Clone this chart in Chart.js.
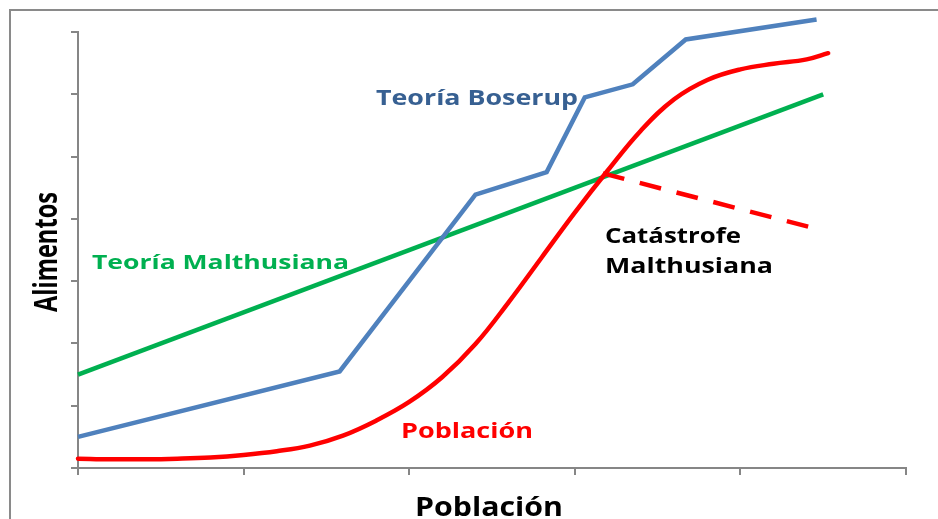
<!DOCTYPE html>
<html>
<head>
<meta charset="utf-8">
<script src="https://cdn.jsdelivr.net/npm/chart.js@4"></script>
<style>
  html, body { margin: 0; padding: 0; background: #fff; }
  #wrap { width: 938px; height: 519px; }
</style>
</head>
<body>
<div id="wrap"><canvas id="chart" width="938" height="519"></canvas></div>
<script>
// Población (curva roja)
const poblX = [0, 0.2, 0.4, 0.6, 0.8, 1.0, 1.2, 1.4, 1.6, 1.8, 2.0, 2.2, 2.4, 2.6, 2.8, 3.0, 3.2, 3.4, 3.6, 3.8, 4.0, 4.2, 4.4, 4.53];
const poblY = [0.15, 0.14, 0.14, 0.15, 0.17, 0.21, 0.27, 0.36, 0.52, 0.76, 1.06, 1.46, 1.99, 2.66, 3.38, 4.10, 4.78, 5.42, 5.92, 6.23, 6.40, 6.49, 6.56, 6.66];

// Catástrofe malthusiana (rojo discontinuo)
const catX = [3.17, 4.43];
const catY = [4.73, 3.86];

// Teoría Boserup (azul)
const boserupX = [0, 1.58, 2.40, 2.83, 3.06, 3.35, 3.67, 4.46];
const boserupY = [0.50, 1.55, 4.39, 4.75, 5.95, 6.16, 6.88, 7.20];

// Teoría Malthusiana (verde)
const malthusX = [0, 4.5];
const malthusY = [1.5, 6.0];

const xTicks = [0, 1, 2, 3, 4, 5];
const yTicks = [0, 1, 2, 3, 4, 5, 6, 7];

const pts = (xs, ys) => xs.map((x, i) => ({ x: x, y: ys[i] }));

// textos sobre el gráfico (posición en px del lienzo, ancho deseado)
const notes = [
  { text: 'Teoría Boserup', x: 376, y: 105, size: 21, w: 202, color: '#376092' },
  { text: 'Teoría Malthusiana', x: 92, y: 269, size: 19, w: 257, color: '#00B050' },
  { text: 'Catástrofe', x: 605, y: 243, size: 21, w: 136, color: '#000' },
  { text: 'Malthusiana', x: 605, y: 273, size: 21, w: 168, color: '#000' },
  { text: 'Población', x: 401, y: 438, size: 21, w: 132, color: '#FF0000' },
  { text: 'Población', x: 415, y: 516, size: 27, w: 148, color: '#000' },
  { text: 'Alimentos', x: 57, y: 312, size: 32, w: 120, color: '#000', rot: true }
];

const frame = {
  id: 'frame',
  beforeDraw(chart) {
    const c = chart.ctx;
    c.save();
    c.fillStyle = '#fff';
    c.fillRect(0, 0, chart.width, chart.height);
    c.strokeStyle = '#8a8a8a';
    c.lineWidth = 2;
    c.strokeRect(10, 10, chart.width + 20, chart.height + 20);
    c.restore();
  }
};

const notesPlugin = {
  id: 'notes',
  afterDatasetsDraw(chart) {
    const c = chart.ctx;
    notes.forEach(n => {
      c.save();
      c.font = 'bold ' + n.size + 'px "Open Sans"';
      c.fillStyle = n.color;
      c.textBaseline = 'alphabetic';
      const m = c.measureText(n.text).width;
      c.translate(n.x, n.y);
      if (n.rot) c.rotate(-Math.PI / 2);
      c.scale(n.w / m, 1);
      c.fillText(n.text, 0, 0);
      c.restore();
    });
  }
};

const axisStyle = {
  grid: { drawOnChartArea: false, drawTicks: true, tickLength: 7, color: '#868686', lineWidth: 2 },
  border: { display: true, color: '#868686', width: 2 }
};

new Chart(document.getElementById('chart'), {
  type: 'line',
  data: {
    datasets: [
      {
        label: 'Población',
        data: pts(poblX, poblY),
        borderColor: '#FF0000',
        borderWidth: 4.5,
        tension: 0.4,
        borderCapStyle: 'round',
        pointRadius: 0,
        clip: false
      },
      {
        label: 'Catástrofe Malthusiana',
        data: pts(catX, catY),
        borderColor: '#FF0000',
        borderWidth: 4.5,
        borderDash: [22, 16],
        pointRadius: 0,
        clip: false
      },
      {
        label: 'Teoría Boserup',
        data: pts(boserupX, boserupY),
        borderColor: '#4F81BD',
        borderWidth: 4.5,
        tension: 0,
        pointRadius: 0,
        clip: false
      },
      {
        label: 'Teoría Malthusiana',
        data: pts(malthusX, malthusY),
        borderColor: '#00B050',
        borderWidth: 4.5,
        tension: 0,
        pointRadius: 0,
        clip: false
      }
    ]
  },
  options: {
    responsive: false,
    animation: false,
    layout: { padding: { left: 71, top: 32, right: 32, bottom: 44 } },
    plugins: {
      legend: { display: false },
      tooltip: { enabled: false }
    },
    scales: {
      x: {
        type: 'linear',
        min: xTicks[0],
        max: xTicks[xTicks.length - 1],
        afterBuildTicks: (s) => { s.ticks = xTicks.map(v => ({ value: v })); },
        ticks: { display: false },
        ...axisStyle
      },
      y: {
        type: 'linear',
        min: yTicks[0],
        max: yTicks[yTicks.length - 1],
        afterBuildTicks: (s) => { s.ticks = yTicks.map(v => ({ value: v })); },
        ticks: { display: false },
        ...axisStyle
      }
    }
  },
  plugins: [frame, notesPlugin]
});
</script>
</body>
</html>
